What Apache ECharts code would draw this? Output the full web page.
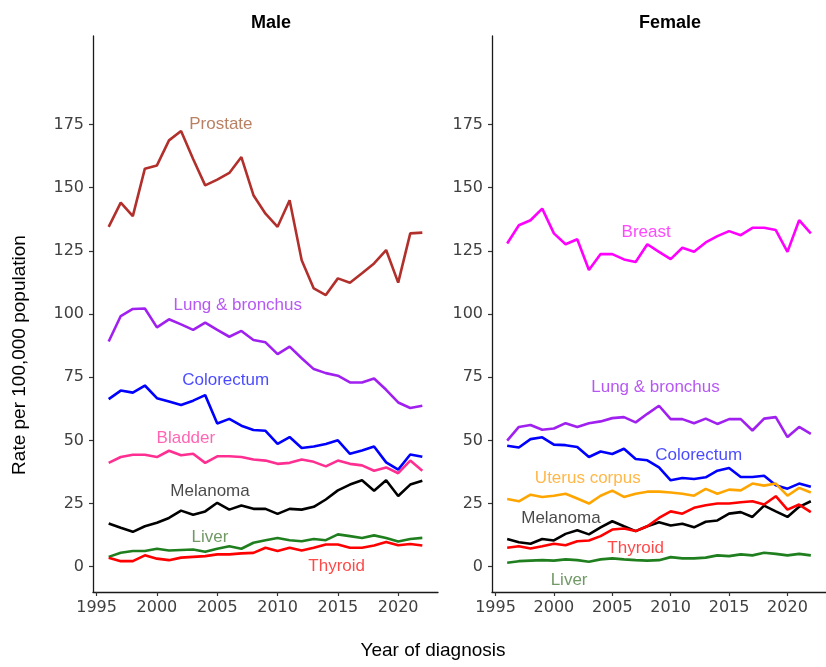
<!DOCTYPE html>
<html>
<head>
<meta charset="utf-8">
<script src="https://cdn.jsdelivr.net/npm/echarts@6/dist/echarts.min.js"></script>
<style>
  html, body { margin: 0; padding: 0; background: #ffffff; }
  #chart { width: 826px; height: 667px; }
</style>
</head>
<body>
<div id="chart"></div>
<script>
// Cancer incidence rates per 100,000, by year of diagnosis
const years = [1996, 1997, 1998, 1999, 2000, 2001, 2002, 2003, 2004, 2005, 2006, 2007, 2008, 2009,
  2010, 2011, 2012, 2013, 2014, 2015, 2016, 2017, 2018, 2019, 2020, 2021, 2022];

const xTicks = [1995, 2000, 2005, 2010, 2015, 2020];
const yTicks = [0, 25, 50, 75, 100, 125, 150, 175];

// Male
const maleProstate   = [134.5, 144.1, 138.7, 157.5, 158.8, 168.7, 172.4, 161.3, 150.9, 153.2, 155.8, 162.1, 147.0, 139.7, 134.5, 145.0, 121.3, 110.1, 107.5, 114.1, 112.4, 116.1, 120.0, 125.3, 112.4, 131.9, 132.2];
const maleLung       = [89.1, 99.2, 102.0, 102.2, 94.7, 97.9, 95.9, 93.7, 96.6, 93.7, 91.0, 93.3, 89.7, 88.8, 84.1, 87.1, 82.5, 78.2, 76.6, 75.6, 72.9, 72.9, 74.5, 70.0, 65.0, 62.8, 63.7];
const maleColorectum = [66.3, 69.7, 68.9, 71.7, 66.7, 65.4, 64.0, 65.7, 67.9, 56.7, 58.5, 55.8, 54.1, 53.8, 48.6, 51.3, 47.0, 47.6, 48.6, 50.0, 44.7, 46.0, 47.6, 41.3, 38.4, 44.4, 43.5];
const maleBladder    = [41.1, 43.4, 44.3, 44.3, 43.4, 45.9, 44.1, 44.7, 41.1, 43.7, 43.7, 43.4, 42.4, 42.0, 40.7, 41.1, 42.4, 41.5, 39.7, 42.0, 40.7, 40.1, 38.0, 39.3, 37.0, 42.0, 38.0];
const maleMelanoma   = [17.1, 15.4, 13.8, 16.0, 17.4, 19.3, 22.2, 20.6, 21.9, 25.3, 22.6, 24.2, 22.9, 22.9, 20.9, 22.9, 22.6, 23.7, 26.6, 30.2, 32.5, 34.2, 30.1, 34.2, 28.0, 32.5, 34.0];
const maleLiver      = [3.9, 5.5, 6.2, 6.2, 7.1, 6.4, 6.6, 6.8, 5.9, 7.1, 8.1, 7.1, 9.5, 10.5, 11.4, 10.5, 10.1, 11.0, 10.5, 12.8, 12.1, 11.4, 12.4, 11.4, 10.0, 11.0, 11.4];
const maleThyroid    = [3.6, 2.2, 2.2, 4.5, 3.2, 2.6, 3.6, 3.9, 4.2, 4.9, 4.9, 5.3, 5.5, 7.5, 6.2, 7.5, 6.4, 7.5, 8.8, 8.8, 7.5, 7.5, 8.4, 9.8, 8.5, 9.0, 8.4];

// Female
const femaleBreast     = [127.9, 135.1, 137.1, 141.7, 131.9, 127.6, 129.6, 117.4, 123.7, 123.7, 121.6, 120.6, 127.6, 124.6, 121.7, 126.2, 124.6, 128.3, 130.8, 132.8, 131.2, 134.1, 134.1, 133.2, 124.6, 137.1, 131.9];
const femaleLung       = [49.9, 55.3, 56.1, 54.2, 54.7, 56.8, 55.3, 56.8, 57.5, 58.8, 59.2, 57.1, 60.5, 63.7, 58.4, 58.4, 56.8, 58.6, 56.5, 58.4, 58.4, 53.9, 58.6, 59.2, 51.3, 55.3, 52.6];
const femaleColorectum = [47.9, 47.2, 50.5, 51.2, 48.3, 48.1, 47.4, 43.4, 45.6, 44.6, 46.7, 42.6, 42.1, 39.3, 34.2, 35.1, 34.7, 35.4, 38.0, 39.1, 35.5, 35.5, 36.0, 32.2, 30.9, 32.9, 31.6];
const femaleUterus     = [26.8, 25.9, 28.5, 27.6, 28.1, 28.9, 27.0, 25.0, 28.1, 30.1, 27.6, 28.9, 29.7, 29.7, 29.4, 28.9, 28.1, 30.8, 28.9, 30.5, 30.2, 32.9, 32.1, 32.9, 28.1, 31.2, 29.4];
const femaleMelanoma   = [11.0, 9.7, 9.1, 11.0, 10.4, 13.0, 14.4, 12.8, 15.6, 18.0, 16.0, 14.1, 16.0, 17.6, 16.3, 17.0, 15.6, 17.8, 18.3, 21.0, 21.6, 19.7, 24.2, 21.9, 19.7, 23.7, 25.9];
const femaleThyroid    = [7.5, 8.1, 7.2, 8.1, 9.1, 8.5, 10.1, 10.4, 12.1, 14.7, 15.1, 14.1, 16.0, 19.3, 21.9, 21.0, 23.3, 24.3, 25.0, 25.0, 25.5, 25.9, 24.6, 27.9, 22.6, 24.6, 21.6];
const femaleLiver      = [1.6, 2.2, 2.4, 2.6, 2.4, 2.9, 2.6, 2.0, 2.9, 3.3, 2.9, 2.6, 2.4, 2.6, 3.8, 3.3, 3.3, 3.6, 4.5, 4.2, 4.9, 4.5, 5.5, 5.1, 4.5, 5.1, 4.5];

// Site styles: line colour and direct-label colour
const styles = {
  'Prostate':        { line: '#b2302c', text: '#a8603c' },
  'Lung & bronchus': { line: '#a020f0', text: '#a42ef0' },
  'Colorectum':      { line: '#0000ff', text: '#1a1aff' },
  'Bladder':         { line: '#ff2f92', text: '#ff3fa0' },
  'Melanoma':        { line: '#000000', text: '#1a1a1a' },
  'Liver':           { line: '#1f7f1f', text: '#4e8040' },
  'Thyroid':         { line: '#ff0000', text: '#ff1a1a' },
  'Breast':          { line: '#ff00ff', text: '#ff1aff' },
  'Uterus corpus':   { line: '#ffa500', text: '#ffa51a' }
};

const maleSites = [
  ['Prostate', maleProstate], ['Lung & bronchus', maleLung], ['Colorectum', maleColorectum],
  ['Bladder', maleBladder], ['Melanoma', maleMelanoma], ['Liver', maleLiver], ['Thyroid', maleThyroid]
];
const femaleSites = [
  ['Breast', femaleBreast], ['Lung & bronchus', femaleLung], ['Colorectum', femaleColorectum],
  ['Uterus corpus', femaleUterus], ['Melanoma', femaleMelanoma], ['Thyroid', femaleThyroid], ['Liver', femaleLiver]
];

// Direct labels anchored in data units (year, rate)
const maleLabelAt = {
  'Prostate': [2005.3, 175.0], 'Lung & bronchus': [2006.7, 103.6], 'Colorectum': [2005.7, 73.6],
  'Bladder': [2002.4, 51.0], 'Melanoma': [2004.4, 29.7], 'Liver': [2004.4, 11.6], 'Thyroid': [2014.9, 0.1]
};
const femaleLabelAt = {
  'Breast': [2007.9, 132.5], 'Lung & bronchus': [2008.7, 71.0], 'Colorectum': [2012.4, 44.0],
  'Uterus corpus': [2002.9, 34.9], 'Melanoma': [2000.6, 19.3], 'Thyroid': [2007.0, 7.3], 'Liver': [2001.3, -5.3]
};

const tickFont = 'DejaVu Sans';
const textFont = 'Liberation Sans, Arial, sans-serif';

function xAxis(gridIndex) {
  return {
    type: 'value', gridIndex: gridIndex, min: 1994.7, max: 2023.3,
    axisLine: { show: true, onZero: false, lineStyle: { color: '#1a1a1a', width: 1.3 } },
    axisTick: { show: true, length: 4, customValues: xTicks, lineStyle: { color: '#333', width: 1.2 } },
    axisLabel: { customValues: xTicks, formatter: function (v) { return String(v); },
                 color: '#404040', fontFamily: tickFont, fontSize: 16, margin: 8 },
    splitLine: { show: false }
  };
}
function yAxis(gridIndex) {
  return {
    type: 'value', gridIndex: gridIndex, min: -10, max: 210,
    axisLine: { show: true, onZero: false, lineStyle: { color: '#1a1a1a', width: 1.3 } },
    axisTick: { show: true, length: 4, customValues: yTicks, lineStyle: { color: '#333', width: 1.2 } },
    axisLabel: { customValues: yTicks, formatter: function (v) { return String(v); },
                 color: '#404040', fontFamily: tickFont, fontSize: 16, margin: 9 },
    splitLine: { show: false }
  };
}

function panelSeries(sites, labelAt, idx) {
  const out = sites.map(function (s) {
    return {
      name: s[0], type: 'line', xAxisIndex: idx, yAxisIndex: idx,
      data: years.map(function (y, i) { return [y, s[1][i]]; }),
      showSymbol: false, symbol: 'none', smooth: false,
      lineStyle: { color: styles[s[0]].line, width: 2.6 },
      z: 3, silent: true
    };
  });
  out.push({
    type: 'scatter', xAxisIndex: idx, yAxisIndex: idx, symbolSize: 0, silent: true, z: 5,
    data: sites.map(function (s) {
      return {
        value: [labelAt[s[0]][0], labelAt[s[0]][1]],
        label: {
          show: true, position: 'inside', formatter: s[0],
          color: styles[s[0]].text, fontFamily: textFont, fontSize: 17
        }
      };
    })
  });
  return out;
}

const chart = echarts.init(document.getElementById('chart'), null, { renderer: 'canvas' });
chart.setOption({
  backgroundColor: '#ffffff',
  animation: false,
  title: [
    { text: 'Male', left: 266, top: 9, textAlign: 'center',
      textStyle: { fontFamily: textFont, fontWeight: 'bold', fontSize: 18, color: '#000' } },
    { text: 'Female', left: 665, top: 9, textAlign: 'center',
      textStyle: { fontFamily: textFont, fontWeight: 'bold', fontSize: 18, color: '#000' } }
  ],
  grid: [
    { left: 93, top: 36, width: 345, height: 556, containLabel: false },
    { left: 492, top: 36, width: 346, height: 556, containLabel: false }
  ],
  xAxis: [xAxis(0), xAxis(1)],
  yAxis: [yAxis(0), yAxis(1)],
  series: panelSeries(maleSites, maleLabelAt, 0).concat(panelSeries(femaleSites, femaleLabelAt, 1)),
  graphic: [
    { type: 'text', x: 433, y: 641,
      style: { text: 'Year of diagnosis', font: '19px ' + textFont, fill: '#000', align: 'center' } },
    { type: 'text', x: 10, y: 355, rotation: Math.PI / 2,
      style: { text: 'Rate per 100,000 population', font: '19px ' + textFont, fill: '#000',
               align: 'center', verticalAlign: 'top' } }
  ]
});
</script>
</body>
</html>
